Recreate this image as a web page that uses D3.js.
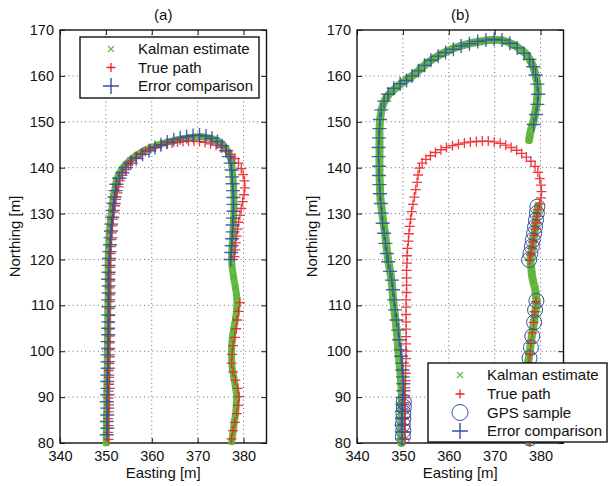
<!DOCTYPE html>
<html><head><meta charset="utf-8">
<script src="https://cdn.jsdelivr.net/npm/d3@7"></script>
<style>
body{margin:0;background:#fff}
svg{display:block}
text{font-family:"Liberation Sans",Arial,Helvetica,sans-serif;fill:#111}
</style>
</head><body><svg id="c" width="608" height="486"></svg>
<script>
// ---------------- data ----------------
const xTicks=[340,350,360,370,380];
const yTicks=[80,90,100,110,120,130,140,150,160,170];
const titles=["(a)","(b)"];
const xLabel="Easting [m]";
const yLabel="Northing [m]";
const legendA=["Kalman estimate","True path","Error comparison"];
const legendB=["Kalman estimate","True path","GPS sample","Error comparison"];

// panel (a)
const kalmanA=[[350.1,80.0],[350.1,84],[350.2,88],[350.2,92],[350.3,96],[350.3,100],[350.4,104],[350.4,108],[350.5,112],[350.5,116],[350.5,120],[350.6,123],[350.8,126],[351.0,128.6],[351.3,131],[351.6,133.7],[352.0,135.5],[352.3,137.3],[352.8,138.5],[353.4,139.6],[354.3,140.7],[355.3,141.7],[356.7,142.7],[358.2,143.6],[360.0,144.4],[361.8,145.1],[364.0,145.7],[366.2,146.2],[368.5,146.6],[370.5,146.8],[372.5,146.5],[374.1,146.0],[375.4,145.1],[376.3,144.0],[377.0,142.6],[377.4,141.0],[377.6,139.0],[377.8,136.5],[377.9,134],[377.9,131],[377.8,128.6],[377.7,126],[377.5,123],[377.4,120.5],[377.5,118.5],[377.8,116.3],[378.2,114],[378.5,111.9],[378.5,109],[378.2,106.8],[377.8,104.6],[377.5,102.5],[377.4,100.3],[377.4,98.4],[377.5,96.6],[377.8,94.8],[378.1,93],[378.5,90.1],[378.4,88.3],[378.3,86.5],[378.0,84.7],[377.8,82.9],[377.4,80.3]];
const trueA=[[350.6,80.8],[350.5,82.3],[350.6,83.8],[350.5,85.3],[350.6,86.8],[350.7,88.3],[350.6,89.8],[350.6,91.3],[350.7,92.8],[350.7,94.3],[350.6,95.8],[350.7,97.3],[350.8,98.8],[350.7,100.3],[350.8,101.8],[350.8,103.3],[350.7,104.8],[350.8,106.3],[350.9,107.8],[350.8,109.3],[350.8,110.8],[350.9,112.3],[350.8,113.8],[350.9,115.3],[350.9,116.8],[350.9,118.3],[351.0,119.8],[351.0,121.3],[351.1,122.8],[351.2,124.3],[351.3,125.8],[351.4,127.3],[351.6,128.8],[351.8,130.3],[352.0,131.7],[352.2,133.1],[352.5,134.5],[352.8,135.8],[353.1,137.1],[353.6,138.3],[354.2,139.5],[354.9,140.6],[355.7,141.5],[356.6,142.3],[357.6,143.0],[358.6,143.6],[359.7,144.1],[360.8,144.5],[362.0,144.9],[363.2,145.2],[364.4,145.4],[365.6,145.6],[366.8,145.7],[368.0,145.8],[369.2,145.8],[370.4,145.7],[371.6,145.5],[372.8,145.2],[374.0,144.9],[375.1,144.4],[376.2,143.7],[377.2,142.9],[378.1,142.0],[378.9,141.0],[379.5,139.8],[379.9,138.5],[380.2,137.1],[380.3,135.6],[380.1,134.1],[379.8,132.6],[379.5,131.1],[379.2,129.6],[378.9,128.1],[378.7,126.6],[378.5,125.1],[378.3,123.6],[378.2,122.1],[378.0,120.6],
[379.2,110.6],[378.9,108.7],[378.6,106.8],[378.4,104.9],[378.1,103.0],[377.7,101.2],[377.5,99.3],[377.4,97.4],[377.7,95.5],[378.2,93.7],[378.7,91.9],[379.0,90.1],[378.8,88.2],[378.5,86.4],[378.1,84.5],[377.7,82.7],[377.4,80.9]];
const errorA=[[350.2,81.8],[350.3,83.2],[350.2,84.7],[350.3,86.1],[350.3,87.6],[350.2,89.0],[350.3,90.5],[350.4,91.9],[350.3,93.4],[350.3,94.8],[350.4,96.3],[350.4,97.7],[350.4,99.2],[350.5,100.6],[350.4,102.1],[350.5,103.6],[350.5,105.0],[350.5,106.4],[350.5,107.9],[350.6,109.7],[350.5,111.2],[350.6,112.7],[350.6,114.2],[350.5,115.7],[350.6,117.2],[350.6,118.7],[350.7,120.2],[350.8,121.7],[350.9,123.2],[351.0,124.7],[351.1,126.2],[351.2,127.7],[351.4,129.2],[351.5,130.7],[351.7,132.2],[351.9,133.6],[352.1,135.0],[352.3,136.4],[352.9,137.7],[353.6,138.9],[354.4,140.0],[355.4,141.0],[356.6,142.0],[358.0,142.9],[359.4,143.7],[360.7,144.4],[362.0,145.0],[363.4,145.6],[364.8,146.1],[366.2,146.5],[367.6,146.8],[369.0,147.0],[370.4,147.1],[371.8,146.9],[373.1,146.4],[374.3,145.7],[375.3,144.8],[376.2,143.7],[376.8,142.4],[377.2,141.0],[377.4,139.5],[377.5,138.0],[377.6,136.5],[377.7,135.0],[377.8,133.5],[377.8,132.0],[377.8,130.5],[377.7,129.0],[377.6,127.5],[377.6,126.0],[377.5,124.5],[377.4,123.0],[377.3,121.5],[377.2,120.0]];

// panel (b)
const kalmanB1=[[349.7,80.0],[349.7,84],[349.8,88],[349.7,92],[349.4,96],[349.0,100.3],[348.7,104],[348.3,107.5],[347.9,111],[347.6,114.8],[347.2,117.5],[346.8,119.9],[346.4,123],[346.1,125.7],[345.7,128.5],[345.4,130.8],[345.1,133.5],[345.0,135.9],[344.9,139],[344.9,143.1],[344.9,146],[344.9,148.2],[345.2,151.8],[345.6,153.5],[346.1,154.7],[346.8,155.8],[347.6,156.6],[348.6,157.5],[349.7,158.4],[351.0,159.3],[352.3,160.2],[353.7,161.4],[355.2,162.7],[356.6,163.7],[358.1,164.6],[359.5,165.3],[361.0,166.0],[362.8,166.6],[364.6,167.1],[366.8,167.5],[369.0,167.8],[371.0,167.8],[372.5,167.5],[373.7,167.0],[374.8,166.4],[376.0,165.5],[377.0,164.6],[377.8,163.3],[378.4,162.0],[378.9,160.2],[379.3,158.4],[379.4,157.0],[379.3,155.5],[379.1,153.7],[378.8,151.8],[378.5,150.3],[378.1,148.9],[377.7,147.2],[377.5,146.0]];
const kalmanB2=[[377.4,80.2],[377.7,82.5],[378.0,84.5],[378.2,86.5],[378.3,88.5],[378.2,90.5],[377.9,93.0],[377.6,95.5],[377.3,97.4],[377.5,98.8],[377.7,100.3],[378.0,102.5],[378.3,104.6],[378.6,106.5],[378.8,108.3],[379.1,110.5],[379.0,112.0],[378.8,113.6],[378.4,115.2],[378.1,116.8],[378.0,118.0],[377.8,119.5],[377.9,121.0],[378.2,122.6],[378.4,124.2],[378.7,125.8],[378.9,127.4],[379.1,129.0],[379.3,130.5],[379.5,131.7]];
const trueB=[[350.5,80.8],[350.5,82.4],[350.4,84.0],[350.5,85.6],[350.5,87.2],[350.4,88.8],[350.5,90.4],[350.5,92.0],[350.6,93.6],[350.6,95.2],[350.6,96.8],[350.7,98.4],[350.7,100.0],[350.7,101.6],[350.7,103.2],[350.7,104.8],[350.7,106.4],[350.7,108.0],[350.7,109.6],[350.7,111.2],[350.8,112.8],[350.8,114.4],[350.8,116.0],[350.8,117.6],[350.9,119.2],[350.9,120.8],[351.0,122.4],[351.2,124.0],[351.3,125.6],[351.5,127.2],[351.7,128.8],[351.9,130.4],[352.2,132.0],[352.5,133.6],[352.8,135.2],[353.1,136.8],[353.3,138.4],[353.6,139.9],[354.2,141.0],[355.0,141.8],[356.0,142.6],[357.1,143.3],[358.3,143.9],[359.5,144.4],[360.8,144.8],[362.1,145.1],[363.4,145.4],[364.7,145.6],[366.0,145.7],[367.3,145.8],[368.6,145.8],[369.9,145.6],[371.2,145.3],[372.4,144.9],[373.6,144.4],[374.8,143.8],[375.9,143.1],[376.9,142.3],[377.9,141.4],[378.8,140.3],[379.4,139.0],[379.8,137.6],[380.1,136.2],[380.2,134.8],[380.1,133.4],[379.8,132.1],
[379.4,130.8],[379.2,129.4],[379.0,128.0],[378.8,126.6],[378.6,125.2],[378.4,123.8],[378.1,122.4],[377.9,121.0],[377.6,119.8],
[379.0,110.8],[378.7,108.6],[378.5,106.3],[378.2,104.0],[377.9,101.7],[377.7,99.4],[377.5,97.4],[377.6,95.2],[377.9,93.0],[378.2,90.8],[378.4,88.6],[378.3,86.4],[378.0,84.2],[377.8,82.0],[377.6,80.2]];
const gpsB=[[350.0,81.4],[350.1,82.7],[350.0,84.0],[350.1,85.3],[350.1,86.6],[350.2,87.9],[350.2,89.0],
[379.3,131.5],[379.2,130.1],[379.0,128.6],[378.8,127.1],[378.6,125.7],[378.3,124.2],[378.1,122.8],[377.8,121.3],[377.5,119.9],
[379.1,111.0],[378.8,109.0],[378.6,106.3],[378.2,103.3],[377.9,100.8],[377.6,98.5],[377.6,96.0],[377.9,93.0],[378.3,90.0],[378.3,87.0],[378.0,84.0],[377.7,81.0]];
const errorB=[[349.8,80.9],[349.8,82.4],[349.7,83.9],[349.8,85.4],[349.8,86.9],[349.9,88.4],[350.0,89.9],[350.1,91.4],[350.1,92.9],[350.0,94.4],[349.9,95.9],[349.8,97.4],[349.6,98.9],[349.5,100.3],[349.2,102.5],[349.0,104.6],[348.6,106.8],[348.3,109.0],[348.1,111.2],[347.8,113.4],[347.6,115.5],[347.2,117.4],[346.8,119.5],[346.5,121.3],[346.2,123.5],[345.9,125.7],[345.6,127.9],[345.4,130.1],[345.2,132.2],[345.0,134.3],[344.9,136.3],[344.8,138.3],[344.8,140.3],[344.7,142.4],[344.7,144.4],[344.8,146.5],[344.9,148.5],[345.0,150.5],[345.3,152.6],[345.9,154.5],[346.8,156.0],[348.0,157.3],[349.4,158.3],[350.8,159.0],[352.0,160.0],[353.4,161.1],[354.7,162.3],[356.1,163.4],[357.7,164.3],[359.3,165.1],[361.0,165.8],[362.7,166.5],[364.5,167.0],[366.3,167.5],[368.1,167.8],[369.9,168.0],[371.6,167.8],[373.3,167.1],[374.9,166.1],[376.4,164.9],[377.6,163.6],[378.4,162.0],[378.9,160.2],[379.3,158.2],[379.5,156.0],[379.3,153.8],[379.0,151.6],[378.5,149.4]];

// ---------------- drawing ----------------
const C={green:"#66bb45",red:"#ee2226",blue:"#34529f",grid:"#6a6a6a"};
const svg=d3.select("#c");
const plotTop=30, plotBottom=443;
const panels=[
 {left:60,right:266.5,title:titles[0],kalman:[kalmanA],truth:trueA,gps:[],err:errorA,band:7,
  legend:{x:80,y:37,w:179,h:61,mx:111,tx:138,rows:[49,67.5,86],items:legendA,kinds:["k","t","e"]}},
 {left:357,right:563.5,title:titles[1],kalman:[kalmanB1,kalmanB2],truth:trueB,gps:gpsB,err:errorB,band:8,
  legend:{x:428,y:363,w:179,h:79,mx:460,tx:487,rows:[375,394,412.5,431],items:legendB,kinds:["k","t","g","e"]}}
];
const plus=s=>`M${-s},0H${s}M0,${-s}V${s}`;
const cross=s=>`M${-s},${-s}L${s},${s}M${-s},${s}L${s},${-s}`;

function marker(g,kind,px,py,legend){
  if(kind==="k") g.append("path").attr("d",cross(legend?3:2.6)).attr("transform",`translate(${px},${py})`).attr("stroke",C.green).attr("stroke-width",1.2).attr("fill","none");
  if(kind==="t") g.append("path").attr("d",plus(legend?4.5:5)).attr("transform",`translate(${px},${py})`).attr("stroke",C.red).attr("stroke-width",1.3).attr("fill","none");
  if(kind==="g") g.append("circle").attr("cx",px).attr("cy",py).attr("r",legend?8:7.5).attr("stroke",C.blue).attr("stroke-width",1).attr("fill","none");
  if(kind==="e") g.append("path").attr("d",plus(legend?8:7)).attr("transform",`translate(${px},${py})`).attr("stroke",C.blue).attr("stroke-width",1.4).attr("fill","none");
}

panels.forEach(p=>{
  const x=d3.scaleLinear().domain([340,385]).range([p.left,p.right]);
  const y=d3.scaleLinear().domain([80,170]).range([plotBottom,plotTop]);
  const g=svg.append("g");
  // grid
  g.append("g").selectAll("line").data(xTicks.filter(t=>t>340)).join("line")
    .attr("x1",d=>x(d)).attr("x2",d=>x(d)).attr("y1",plotTop).attr("y2",plotBottom)
    .attr("stroke",C.grid).attr("stroke-width",1).attr("stroke-dasharray","1,3.2");
  g.append("g").selectAll("line").data(yTicks.filter(t=>t>80&&t<170)).join("line")
    .attr("x1",p.left).attr("x2",p.right).attr("y1",d=>y(d)).attr("y2",d=>y(d))
    .attr("stroke",C.grid).attr("stroke-width",1).attr("stroke-dasharray","1,3.2");
  // axes
  const ax=g.append("g").attr("transform",`translate(0,${plotBottom})`)
    .call(d3.axisBottom(x).tickValues(xTicks).tickSizeInner(-5).tickSizeOuter(0).tickPadding(8));
  const ay=g.append("g").attr("transform",`translate(${p.left},0)`)
    .call(d3.axisLeft(y).tickValues(yTicks).tickSizeInner(-5).tickSizeOuter(0).tickPadding(6));
  g.append("g").attr("transform",`translate(0,${plotTop})`)
    .call(d3.axisTop(x).tickValues(xTicks).tickSizeInner(-5).tickSizeOuter(0).tickFormat(""));
  g.append("g").attr("transform",`translate(${p.right},0)`)
    .call(d3.axisRight(y).tickValues(yTicks).tickSizeInner(-5).tickSizeOuter(0).tickFormat(""));
  g.selectAll(".domain").attr("stroke","none");
  g.selectAll(".tick line").attr("stroke","#111").attr("stroke-width",1);
  g.selectAll(".tick text").attr("font-size",14.5).attr("fill","#111").style("font-family",'"Liberation Sans",Arial,sans-serif');
  g.append("rect").attr("x",p.left).attr("y",plotTop).attr("width",p.right-p.left).attr("height",plotBottom-plotTop)
    .attr("fill","none").attr("stroke","#111").attr("stroke-width",1.4);
  // labels
  g.append("text").attr("x",(p.left+p.right)/2).attr("y",20).attr("text-anchor","middle").attr("font-size",15).text(p.title);
  g.append("text").attr("x",(p.left+p.right)/2).attr("y",478).attr("text-anchor","middle").attr("font-size",15).text(xLabel);
  g.append("text").attr("transform",`translate(${p.left-40},${(plotTop+plotBottom)/2}) rotate(-90)`).attr("text-anchor","middle").attr("font-size",15).text(yLabel);

  // data: Kalman estimate band + x markers
  const line=d3.line().x(d=>x(d[0])).y(d=>y(d[1])).curve(d3.curveCatmullRom);
  const dg=g.append("g");
  p.kalman.forEach(seg=>{
    dg.append("path").attr("d",line(seg)).attr("fill","none").attr("stroke",C.green)
      .attr("stroke-width",p.band).attr("stroke-linecap","round").attr("stroke-linejoin","round");
    dg.append("g").selectAll("path").data(seg).join("path")
      .attr("d",cross(2.8)).attr("transform",d=>`translate(${x(d[0])},${y(d[1])})`)
      .attr("stroke","#5aae3a").attr("stroke-width",1.2).attr("fill","none");
  });
  // GPS samples
  dg.append("g").selectAll("circle").data(p.gps).join("circle")
    .attr("cx",d=>x(d[0])).attr("cy",d=>y(d[1])).attr("r",7.5)
    .attr("fill","none").attr("stroke",C.blue).attr("stroke-width",1);
  // true path
  dg.append("g").selectAll("path").data(p.truth).join("path")
    .attr("d",plus(5)).attr("transform",d=>`translate(${x(d[0])},${y(d[1])})`)
    .attr("stroke",C.red).attr("stroke-width",1.3).attr("stroke-opacity",0.9).attr("fill","none");
  // error comparison
  dg.append("g").selectAll("path").data(p.err).join("path")
    .attr("d",plus(7)).attr("transform",d=>`translate(${x(d[0])},${y(d[1])})`)
    .attr("stroke",C.blue).attr("stroke-width",1.4).attr("stroke-opacity",0.9).attr("fill","none");

  // legend
  const L=p.legend, lg=g.append("g");
  lg.append("rect").attr("x",L.x).attr("y",L.y).attr("width",L.w).attr("height",L.h)
    .attr("fill","#fff").attr("stroke","#111").attr("stroke-width",1.4);
  L.items.forEach((t,i)=>{
    marker(lg,L.kinds[i],L.mx,L.rows[i],true);
    lg.append("text").attr("x",L.tx).attr("y",L.rows[i]).attr("dy","0.36em").attr("font-size",15).text(t);
  });
});
</script>
</body></html>
